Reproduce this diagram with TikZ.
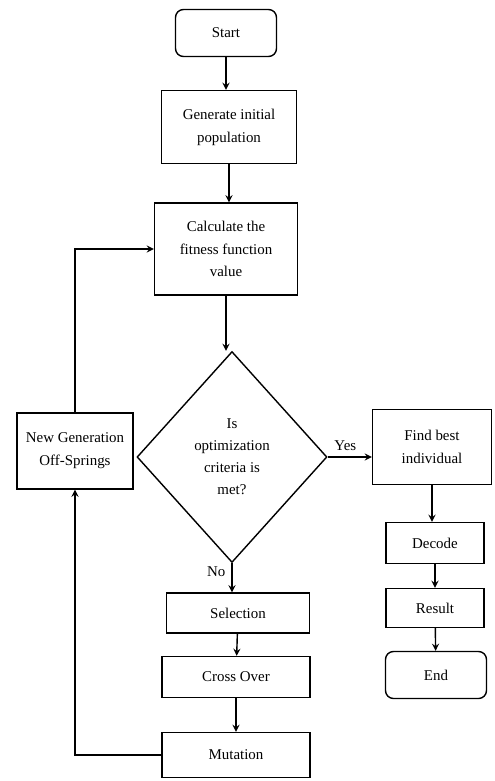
\documentclass[tikz,border=0pt]{standalone}
\usepackage{fontspec}
\setmainfont{Liberation Serif}
\usetikzlibrary{shapes.geometric}

\begin{document}
\begin{tikzpicture}[
    x=0.02cm, y=-0.02cm,
    box/.style={draw, thick, align=center, inner sep=1pt,
                font=\fontsize{8.5}{13}\selectfont},
    term/.style={box, rounded corners=4.5pt},
    decision/.style={draw, thick, diamond, align=center, inner sep=0pt,
                     minimum width=3.8cm, minimum height=4.22cm,
                     font=\fontsize{8.5}{12.5}\selectfont},
    arrow/.style={->, >=stealth, thick},
    label/.style={font=\fontsize{8.5}{10}\selectfont}
]
\useasboundingbox (0,0) rectangle (494,781);

% --- main column ---
\node[term, minimum width=2.02cm, minimum height=0.94cm] (start) at (226, 33) {Start};
\node[box, minimum width=2.7cm, minimum height=1.46cm] (init) at (229, 127)
    {Generate initial\\population};
\node[box, minimum width=2.86cm, minimum height=1.84cm] (fit) at (226, 249)
    {Calculate the\\fitness function\\value};
\node[decision] (crit) at (232, 457)
    {Is\\optimization\\criteria is\\met?};

% --- GA operators ---
\node[box, minimum width=2.86cm, minimum height=0.8cm] (sel) at (238, 613) {Selection};
\node[box, minimum width=2.96cm, minimum height=0.82cm] (cross) at (236, 677) {Cross Over};
\node[box, minimum width=2.96cm, minimum height=0.9cm] (mut) at (236, 755) {Mutation};

% --- loop back ---
\node[box, minimum width=2.32cm, minimum height=1.52cm] (gen) at (75, 451)
    {New Generation\\Off-Springs};

% --- exit column ---
\node[box, minimum width=2.38cm, minimum height=1.5cm] (best) at (432, 447)
    {Find best\\individual};
\node[box, minimum width=1.96cm, minimum height=0.82cm] (dec) at (435, 543) {Decode};
\node[box, minimum width=1.96cm, minimum height=0.78cm] (res) at (435, 608) {Result};
\node[term, minimum width=2.02cm, minimum height=0.94cm] (end) at (436, 675) {End};

% arrows down the main column
\draw[arrow] (start) -- (start |- init.north);
\draw[arrow] (init) -- (init |- fit.north);
\draw[arrow] (fit) -- (fit |- crit.north);

% decision outcomes
\draw[arrow] (crit.east) -- node[label, above, pos=0.4] {Yes} (crit.east -| best.west);
\draw[arrow] (crit.south) -- node[label, left, pos=0.3] {No} (crit.south |- sel.north);

\draw[arrow] (sel) -- (cross);
\draw[arrow] (cross) -- (mut);

% mutation back to new generation, then to fitness
\draw[arrow] (mut.west) -| (gen.south);
\draw[arrow] (gen.north) |- (fit.west);

% exit column
\draw[arrow] (best) -- (best |- dec.north);
\draw[arrow] (dec) -- (res);
\draw[arrow] (res) -- (end);

\end{tikzpicture}
\end{document}
